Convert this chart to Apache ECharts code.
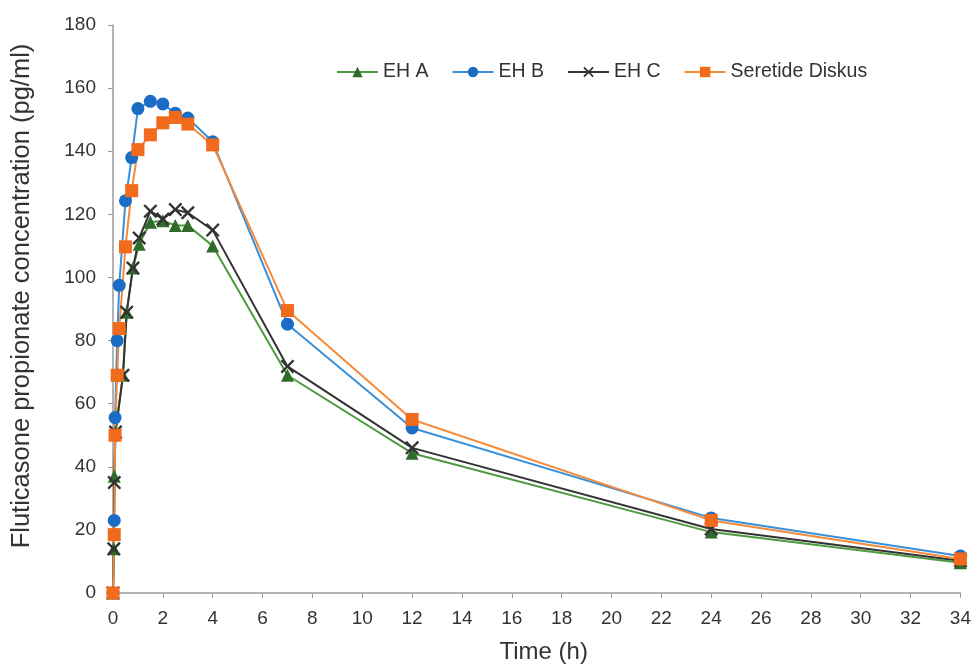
<!DOCTYPE html>
<html>
<head>
<meta charset="utf-8">
<script src="https://cdn.jsdelivr.net/npm/echarts@6/dist/echarts.min.js"></script>
<style>
  html, body { margin: 0; padding: 0; background: #fff; }
  #chart { width: 974px; height: 669px; }
</style>
</head>
<body>
<div id="chart"></div>
<script>
// sampling times (h)
var timeEH = [0, 0.033, 0.05, 0.1, 0.4, 0.55, 0.8, 1.05, 1.5, 2, 2.5, 3, 4, 7, 12, 24, 34];
var timeRef = [0, 0.05, 0.083, 0.167, 0.25, 0.5, 0.75, 1, 1.5, 2, 2.5, 3, 4, 7, 12, 24, 34];

// concentrations (pg/ml)
var ehA = [0, 14, 37, 51, 69, 89, 103, 110.5, 117.5, 118, 116.5, 116.5, 110, 69, 44.3, 19.3, 9.6];
var ehB = [0, 23, 55.6, 80, 97.5, 124.3, 138, 153.5, 155.8, 155, 152, 150.5, 143, 85.2, 52.3, 23.8, 11.7];
var ehC = [0, 14, 35, 51, 69, 89, 103, 112.5, 121, 118.5, 121.5, 120.5, 115, 71.8, 46, 20.3, 10.2];
var seretide = [0, 18.5, 50, 69, 83.8, 109.7, 127.5, 140.5, 145.2, 149, 150.7, 148.6, 142, 89.5, 55, 23, 10.8];

var xTicks = { min: 0, max: 34, step: 2 };
var yTicks = { min: 0, max: 180, step: 20 };

function pairs(t, v) {
  return t.map(function (x, i) { return [x, v[i]]; });
}

var crossPath = 'path://M0,1.2L1.2,0L5,3.8L8.8,0L10,1.2L6.2,5L10,8.8L8.8,10L5,6.2L1.2,10L0,8.8L3.8,5Z';
var font = 'Liberation Sans, Arial, sans-serif';

var chart = echarts.init(document.getElementById('chart'));
chart.setOption({
  animation: false,
  textStyle: { fontFamily: font },
  grid: { left: 113, right: 11, top: 25, bottom: 70 },
  legend: {
    left: 331,
    top: 57,
    itemWidth: 41,
    itemHeight: 13,
    itemGap: 23,
    textStyle: { fontSize: 19.5, color: '#333', fontFamily: font },
    data: ['EH A', 'EH B', 'EH C', 'Seretide Diskus']
  },
  xAxis: {
    type: 'value',
    min: xTicks.min, max: xTicks.max, interval: xTicks.step,
    name: 'Time (h)',
    nameLocation: 'middle',
    nameGap: 47,
    nameTextStyle: { fontSize: 24, color: '#333', padding: [0, 0, 0, 14] },
    splitLine: { show: false },
    axisLine: { lineStyle: { color: '#9a9a9a', width: 1.5 } },
    axisTick: { show: true, length: 5, lineStyle: { color: '#9a9a9a' } },
    axisLabel: { fontSize: 19, color: '#333', margin: 16 }
  },
  yAxis: {
    type: 'value',
    min: yTicks.min, max: yTicks.max, interval: yTicks.step,
    name: 'Fluticasone propionate concentration (pg/ml)',
    nameLocation: 'middle',
    nameGap: 78,
    nameTextStyle: { fontSize: 25.5, color: '#333', padding: [0, 0, 0, 26] },
    splitLine: { show: false },
    axisLine: { show: true, lineStyle: { color: '#9a9a9a', width: 1.5 } },
    axisTick: { show: true, length: 5, lineStyle: { color: '#9a9a9a' } },
    axisLabel: { fontSize: 19, color: '#333', margin: 17 }
  },
  series: [
    {
      name: 'EH A', type: 'line',
      data: pairs(timeEH, ehA),
      symbol: 'triangle', symbolSize: 13,
      lineStyle: { color: '#4d9a3f', width: 2 },
      itemStyle: { color: '#2f6b2a' }
    },
    {
      name: 'EH B', type: 'line',
      data: pairs(timeRef, ehB),
      symbol: 'circle', symbolSize: 13,
      lineStyle: { color: '#3a8fd9', width: 2 },
      itemStyle: { color: '#1a6cc4' }
    },
    {
      name: 'EH C', type: 'line',
      data: pairs(timeEH, ehC),
      symbol: crossPath, symbolSize: 14,
      lineStyle: { color: '#333333', width: 2 },
      itemStyle: { color: '#333333' }
    },
    {
      name: 'Seretide Diskus', type: 'line',
      data: pairs(timeRef, seretide),
      symbol: 'rect', symbolSize: 13,
      lineStyle: { color: '#f58a3a', width: 2 },
      itemStyle: { color: '#f26a1b' }
    }
  ]
});
</script>
</body>
</html>
